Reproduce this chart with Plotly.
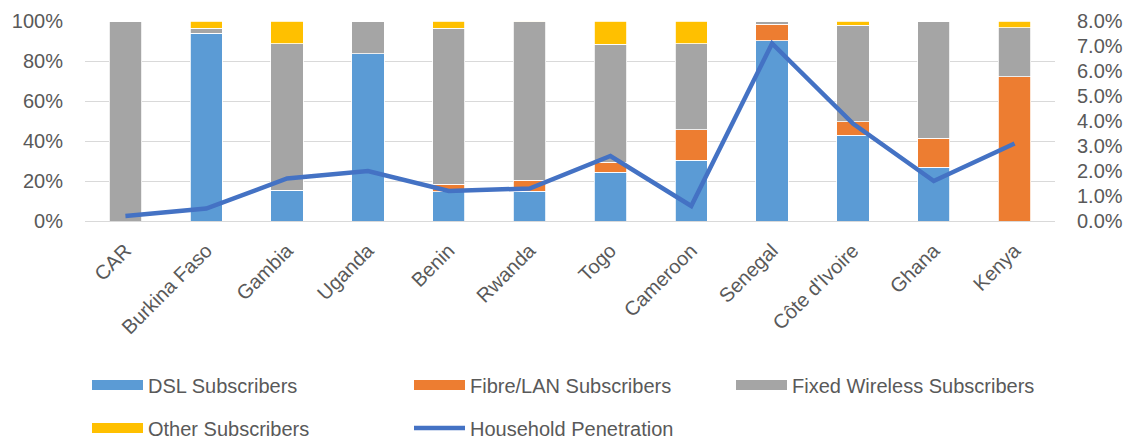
import plotly.graph_objects as go

countries = ["CAR", "Burkina Faso", "Gambia", "Uganda", "Benin", "Rwanda",
             "Togo", "Cameroon", "Senegal", "Côte d'Ivoire", "Ghana", "Kenya"]

# Share of fixed broadband subscribers by technology (fractions of 1)
dsl = [0.0, 0.938, 0.155, 0.837, 0.147, 0.150, 0.243, 0.303, 0.902, 0.430, 0.268, 0.0]
fibre_lan = [0.0, 0.0, 0.0, 0.0, 0.038, 0.055, 0.050, 0.153, 0.082, 0.067, 0.147, 0.722]
fixed_wireless = [1.0, 0.027, 0.732, 0.163, 0.780, 0.792, 0.590, 0.431, 0.016, 0.482, 0.585, 0.245]
other = [0.0, 0.035, 0.113, 0.0, 0.035, 0.003, 0.117, 0.113, 0.0, 0.021, 0.0, 0.033]

# Household penetration of fixed broadband (fractions of 1)
household_penetration = [0.002, 0.005, 0.017, 0.020, 0.012, 0.013,
                         0.026, 0.006, 0.071, 0.039, 0.016, 0.031]

FONT = "Liberation Sans"
TEXT = "#595959"
GRID = "#D9D9D9"
W, H = 1128, 439

series = [
    ("DSL Subscribers", dsl, "#5B9BD5", "legend"),
    ("Fibre/LAN Subscribers", fibre_lan, "#ED7D31", "legend"),
    ("Fixed Wireless Subscribers", fixed_wireless, "#A5A5A5", "legend"),
    ("Other Subscribers", other, "#FFC000", "legend2"),
]

fig = go.Figure()
for name, vals, color, leg in series:
    fig.add_trace(go.Bar(
        x=countries, y=vals, name=name, legendgroup=name,
        marker=dict(color=color, line=dict(color="white", width=0.8)),
        showlegend=False,
    ))
    # legend key drawn as a wide swatch
    fig.add_trace(go.Scatter(
        x=[None], y=[None], mode="lines", name=name, legendgroup=name,
        line=dict(color=color, width=14), legend=leg,
    ))

fig.add_trace(go.Scatter(
    x=countries, y=household_penetration, name="Household Penetration",
    mode="lines", line=dict(color="#4472C4", width=4.5, shape="linear"),
    yaxis="y2", legend="legend2",
))

legend_common = dict(
    orientation="h", xanchor="left", yanchor="middle",
    xref="container", yref="container",
    font=dict(family=FONT, size=20, color=TEXT),
    entrywidth=256, entrywidthmode="pixels", traceorder="normal",
    itemwidth=51, bgcolor="rgba(0,0,0,0)",
)

fig.update_layout(
    width=W, height=H,
    margin=dict(l=85, r=73, t=21, b=218, autoexpand=False),
    paper_bgcolor="white", plot_bgcolor="white",
    barmode="stack", bargap=0.6,
    font=dict(family=FONT, size=20, color=TEXT),
    xaxis=dict(
        tickangle=-45, showgrid=False, showline=False, ticks="",
        tickfont=dict(family=FONT, size=20, color=TEXT),
        ticklabelstandoff=13, automargin=False,
    ),
    yaxis=dict(
        range=[0, 1], dtick=0.2, tickformat=".0%",
        showgrid=True, gridcolor=GRID, gridwidth=1.3,
        zeroline=True, zerolinecolor=GRID, zerolinewidth=1.3,
        showline=False, ticks="", ticklabelstandoff=21,
        tickfont=dict(family=FONT, size=20, color=TEXT),
        automargin=False,
    ),
    yaxis2=dict(
        range=[0, 0.08], dtick=0.01, tickformat=".1%",
        overlaying="y", side="right", showgrid=False, zeroline=False,
        showline=False, ticks="", ticklabelstandoff=21,
        tickfont=dict(family=FONT, size=20, color=TEXT),
        automargin=False,
    ),
    legend=dict(x=87 / W, y=1 - 385 / H, **legend_common),
    legend2=dict(x=87 / W, y=1 - 428 / H, **legend_common),
    showlegend=True,
)

fig.write_html("out.html")
